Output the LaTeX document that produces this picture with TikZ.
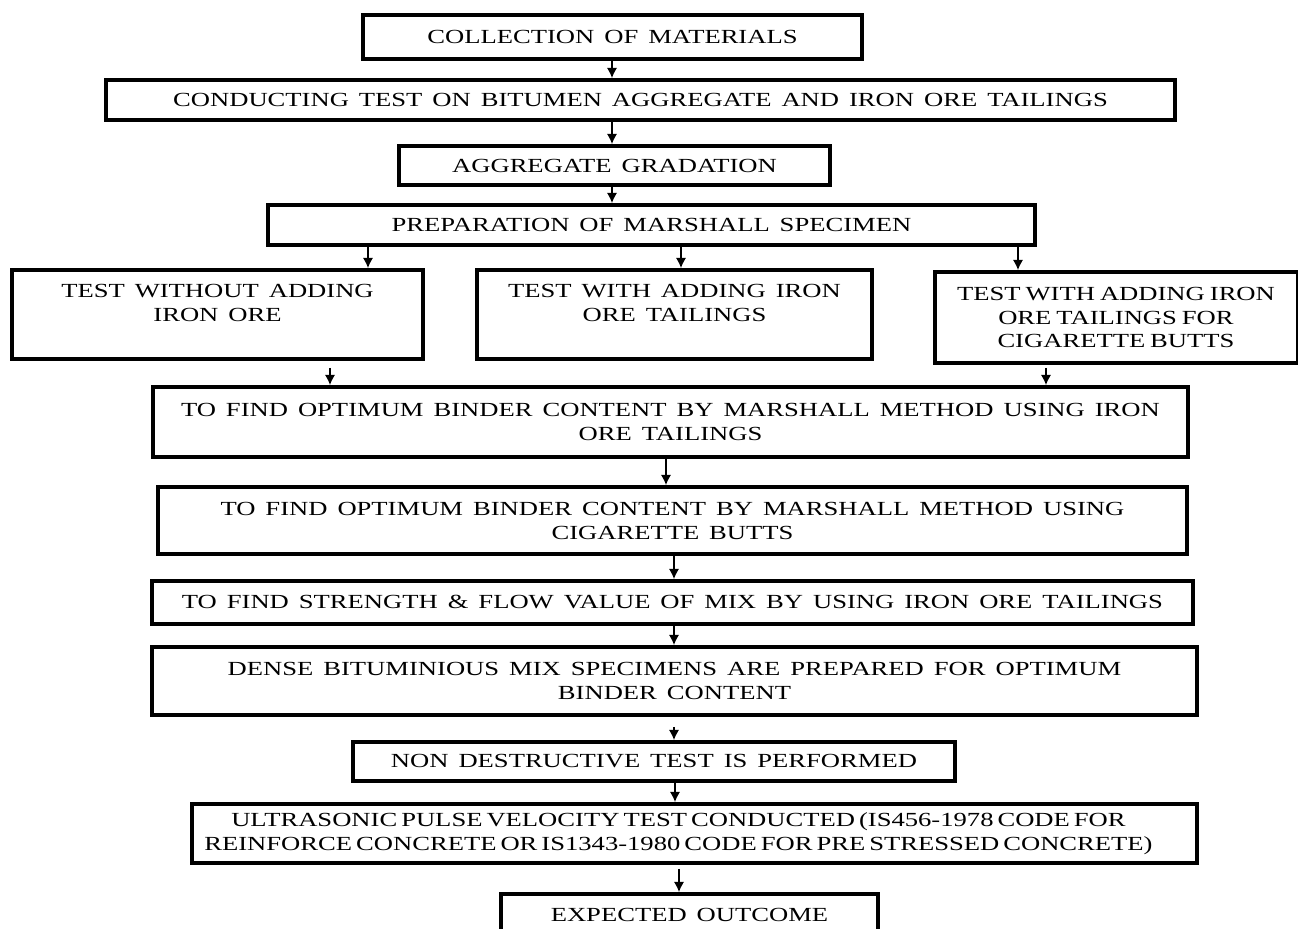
\documentclass[tikz,border=0pt]{standalone}
\usepackage{fontspec}
\setmainfont{Liberation Serif}[FakeStretch=1.33,WordSpace=1.5]
\usepackage{tikz}
\usetikzlibrary{arrows.meta}

\newcommand{\tightspace}[1]{\spaceskip=#1\relax}

\begin{document}
\begin{tikzpicture}[x=0.5pt,y=-0.5pt,
  box/.style={draw,line width=2pt,align=center,font=\fontsize{10}{12}\selectfont,inner sep=2pt},
  arr/.style={line width=0.6pt,-{Latex[length=5pt,width=5pt]}}]
\useasboundingbox (0,0) rectangle (1298,929);

\node[box,minimum width=249.5pt,minimum height=22pt] (coll) at (612.5,37) {COLLECTION OF MATERIALS};
\node[box,minimum width=534.5pt,minimum height=20pt] (cond) at (640.5,100) {CONDUCTING TEST ON BITUMEN AGGREGATE AND IRON ORE TAILINGS};
\node[box,minimum width=215.5pt,minimum height=19.5pt] (grad) at (614.5,165.5) {AGGREGATE GRADATION};
\node[box,minimum width=383.5pt,minimum height=20pt] (prep) at (651.5,225) {PREPARATION OF MARSHALL SPECIMEN};
\node[box,minimum width=205.5pt,minimum height=44.5pt] (wo) at (217.5,314.5) {TEST WITHOUT ADDING\\IRON ORE\\\mbox{}};
\node[box,minimum width=197.5pt,minimum height=44.5pt] (wi) at (674.5,314.5) {TEST WITH ADDING IRON\\ORE TAILINGS\\\mbox{}};
\node[box,minimum width=181.5pt,minimum height=45.5pt,font={\fontsize{10}{11.75}\selectfont\tightspace{2.5pt}}] (cig) at (1116,317.5) {TEST WITH ADDING IRON\\ORE TAILINGS FOR\\CIGARETTE BUTTS};
\node[box,minimum width=517.5pt,minimum height=35pt] (obcit) at (670.5,422) {TO FIND OPTIMUM BINDER CONTENT BY MARSHALL METHOD USING IRON\\ORE TAILINGS};
\node[box,minimum width=514.5pt,minimum height=33.5pt] (obccb) at (672.5,520.5) {TO FIND OPTIMUM BINDER CONTENT BY MARSHALL METHOD USING\\CIGARETTE BUTTS};
\node[box,minimum width=520.5pt,minimum height=21.5pt] (flow) at (672.5,602.5) {TO FIND STRENGTH \& FLOW VALUE OF MIX BY USING IRON ORE TAILINGS};
\node[box,minimum width=522.5pt,minimum height=34pt] (dense) at (674.5,681) {DENSE BITUMINIOUS MIX SPECIMENS ARE PREPARED FOR OPTIMUM\\BINDER CONTENT};
\node[box,minimum width=301pt,minimum height=19.5pt] (ndt) at (654,761.5) {NON DESTRUCTIVE TEST IS PERFORMED};
\node[box,minimum width=502.5pt,minimum height=29.5pt,font={\fontsize{10}{12}\selectfont\tightspace{2pt}}] (upv) at (694.5,833.5) {ULTRASONIC PULSE VELOCITY TEST CONDUCTED (IS456-1978 CODE FOR\hspace*{16pt}\\REINFORCE CONCRETE OR IS1343-1980 CODE FOR PRE STRESSED CONCRETE)\hspace*{16pt}};
\node[box,minimum width=188.5pt,minimum height=21pt] (outc) at (689.5,915) {EXPECTED OUTCOME};

\draw[arr] (612,0 |- coll.south) -- (612,0 |- cond.north);
\draw[arr] (612,0 |- cond.south) -- (612,0 |- grad.north);
\draw[arr] (612,0 |- grad.south) -- (612,0 |- prep.north);
\draw[arr] (368,0 |- prep.south) -- (368,0 |- wo.north);
\draw[arr] (681,0 |- prep.south) -- (681,0 |- wi.north);
\draw[arr] (1018,0 |- prep.south) -- (1018,0 |- cig.north);
\draw[arr] (330,0 |- wo.south) ++(0,7) -- (330,0 |- obcit.north);
\draw[arr] (1046,0 |- cig.south) ++(0,3) -- (1046,0 |- obcit.north);
\draw[arr] (666,0 |- obcit.south) -- (666,0 |- obccb.north);
\draw[arr] (674,0 |- obccb.south) -- (674,0 |- flow.north);
\draw[arr] (674,0 |- flow.south) -- (674,0 |- dense.north);
\draw[arr] (674,0 |- dense.south) ++(0,10) -- (674,0 |- ndt.north);
\draw[arr] (675,0 |- ndt.south) -- (675,0 |- upv.north);
\draw[arr] (679,0 |- upv.south) ++(0,4) -- (679,0 |- outc.north);

\end{tikzpicture}
\end{document}
